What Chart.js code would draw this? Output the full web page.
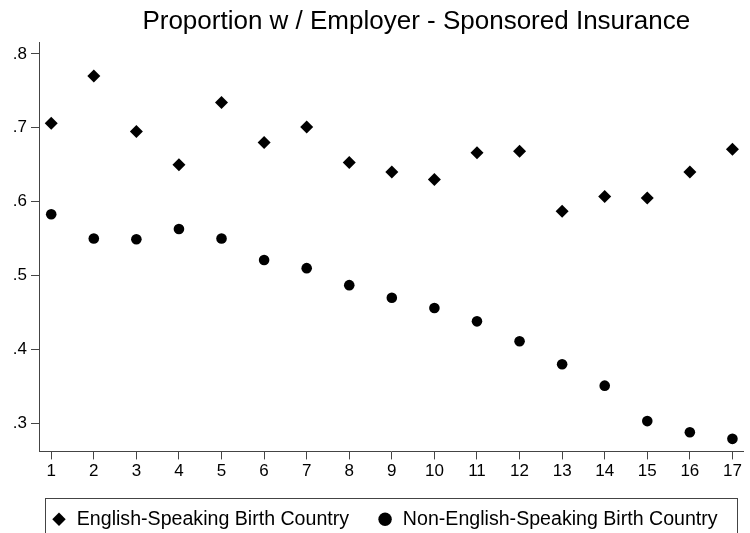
<!DOCTYPE html>
<html>
<head>
<meta charset="utf-8">
<script src="https://cdn.jsdelivr.net/npm/chart.js@4/dist/chart.umd.min.js"></script>
<style>
  html, body { margin: 0; padding: 0; background: #fff; overflow: hidden; }
  #wrap { width: 750px; height: 539px; }
</style>
</head>
<body>
<div id="wrap"><canvas id="chart"></canvas></div>
<script>
const groups = [1, 2, 3, 4, 5, 6, 7, 8, 9, 10, 11, 12, 13, 14, 15, 16, 17]
const english = [0.706, 0.770, 0.695, 0.650, 0.734, 0.680, 0.701, 0.653, 0.640,
  0.630, 0.666, 0.668, 0.587, 0.607, 0.605, 0.640, 0.671]
const nonEnglish = [0.583, 0.550, 0.549, 0.563, 0.550, 0.521, 0.510, 0.487, 0.470,
  0.456, 0.438, 0.411, 0.380, 0.351, 0.303, 0.288, 0.279]
const yTicks = [0.3, 0.4, 0.5, 0.6, 0.7, 0.8]
const xTicks = groups

const titleText = 'Proportion w / Employer - Sponsored Insurance'
const fontFamily = '"Liberation Sans", Arial, sans-serif'
const axisGray = '#444'

function points(values) {
  return values.map((v, i) => ({x: groups[i], y: v}))
}

// title + legend frame drawn by hand, legend row lined up with the frame
const extras = {
  id: 'extras',
  afterLayout(chart) {
    const lg = chart.legend
    const rowWidth = lg.lineWidths[0]
    const shift = 51 - (lg.left + 28 + lg.right - rowWidth) / 2
    lg.left += shift
    lg.right += shift
  },
  afterDraw(chart) {
    const ctx = chart.ctx
    const area = chart.chartArea
    ctx.save()
    ctx.fillStyle = '#000'
    ctx.font = '26px ' + fontFamily
    ctx.textAlign = 'center'
    ctx.textBaseline = 'alphabetic'
    ctx.fillText(titleText, (area.left + area.right) / 2 + 25, 29)

    const hb = chart.legend.legendHitBoxes[0]
    const top = hb.top + hb.height / 2 - 21
    ctx.strokeStyle = axisGray
    ctx.lineWidth = 1
    ctx.strokeRect(Math.round(area.left) + 6.5, Math.round(top) + 0.5,
      Math.round(area.right - area.left) - 13, 60)
    ctx.restore()
  }
}

const ctx = document.getElementById('chart')

const mychart = new Chart(ctx, {
  type: 'scatter',
  data: {
    datasets: [{
      label: 'English-Speaking Birth Country',
      data: points(english),
      pointStyle: 'rectRot',
      pointRadius: 6.5,
      pointHoverRadius: 6.5,
      backgroundColor: '#000',
      borderColor: '#000',
      borderWidth: 0
    }, {
      label: 'Non-English-Speaking Birth Country',
      data: points(nonEnglish),
      pointStyle: 'circle',
      pointRadius: 5.3,
      pointHoverRadius: 5.3,
      backgroundColor: '#000',
      borderColor: '#000',
      borderWidth: 0
    }]
  },
  options: {
    responsive: true,
    maintainAspectRatio: false,
    animation: false,
    layout: {padding: {top: 42, right: 2, left: 0, bottom: 0}},
    plugins: {
      title: {display: false},
      tooltip: {enabled: false},
      legend: {
        position: 'bottom',
        labels: {
          usePointStyle: true,
          boxWidth: 16,
          boxHeight: 9.5,
          padding: 28,
          color: '#000',
          font: {family: fontFamily, size: 19.6}
        }
      }
    },
    scales: {
      x: {
        type: 'linear',
        min: 0.713,
        max: 17.26,
        afterBuildTicks: s => { s.ticks = xTicks.map(v => ({value: v})) },
        afterFit: s => { s.height = 30 },
        grid: {drawOnChartArea: false, drawTicks: true, tickLength: 8, color: axisGray},
        border: {display: true, color: axisGray, width: 1},
        ticks: {color: '#000', padding: 2, maxRotation: 0, autoSkip: false,
          font: {family: fontFamily, size: 17}}
      },
      y: {
        type: 'linear',
        min: 0.262,
        max: 0.816,
        afterBuildTicks: s => { s.ticks = yTicks.map(v => ({value: v})) },
        afterFit: s => { s.width = 39 },
        grid: {drawOnChartArea: false, drawTicks: true, tickLength: 8, color: axisGray},
        border: {display: true, color: axisGray, width: 1},
        ticks: {color: '#000', padding: 4, autoSkip: false,
          font: {family: fontFamily, size: 17},
          callback: v => v.toFixed(1).replace(/^0/, '')}
      }
    }
  },
  plugins: [extras]
});
</script>
</body>
</html>
